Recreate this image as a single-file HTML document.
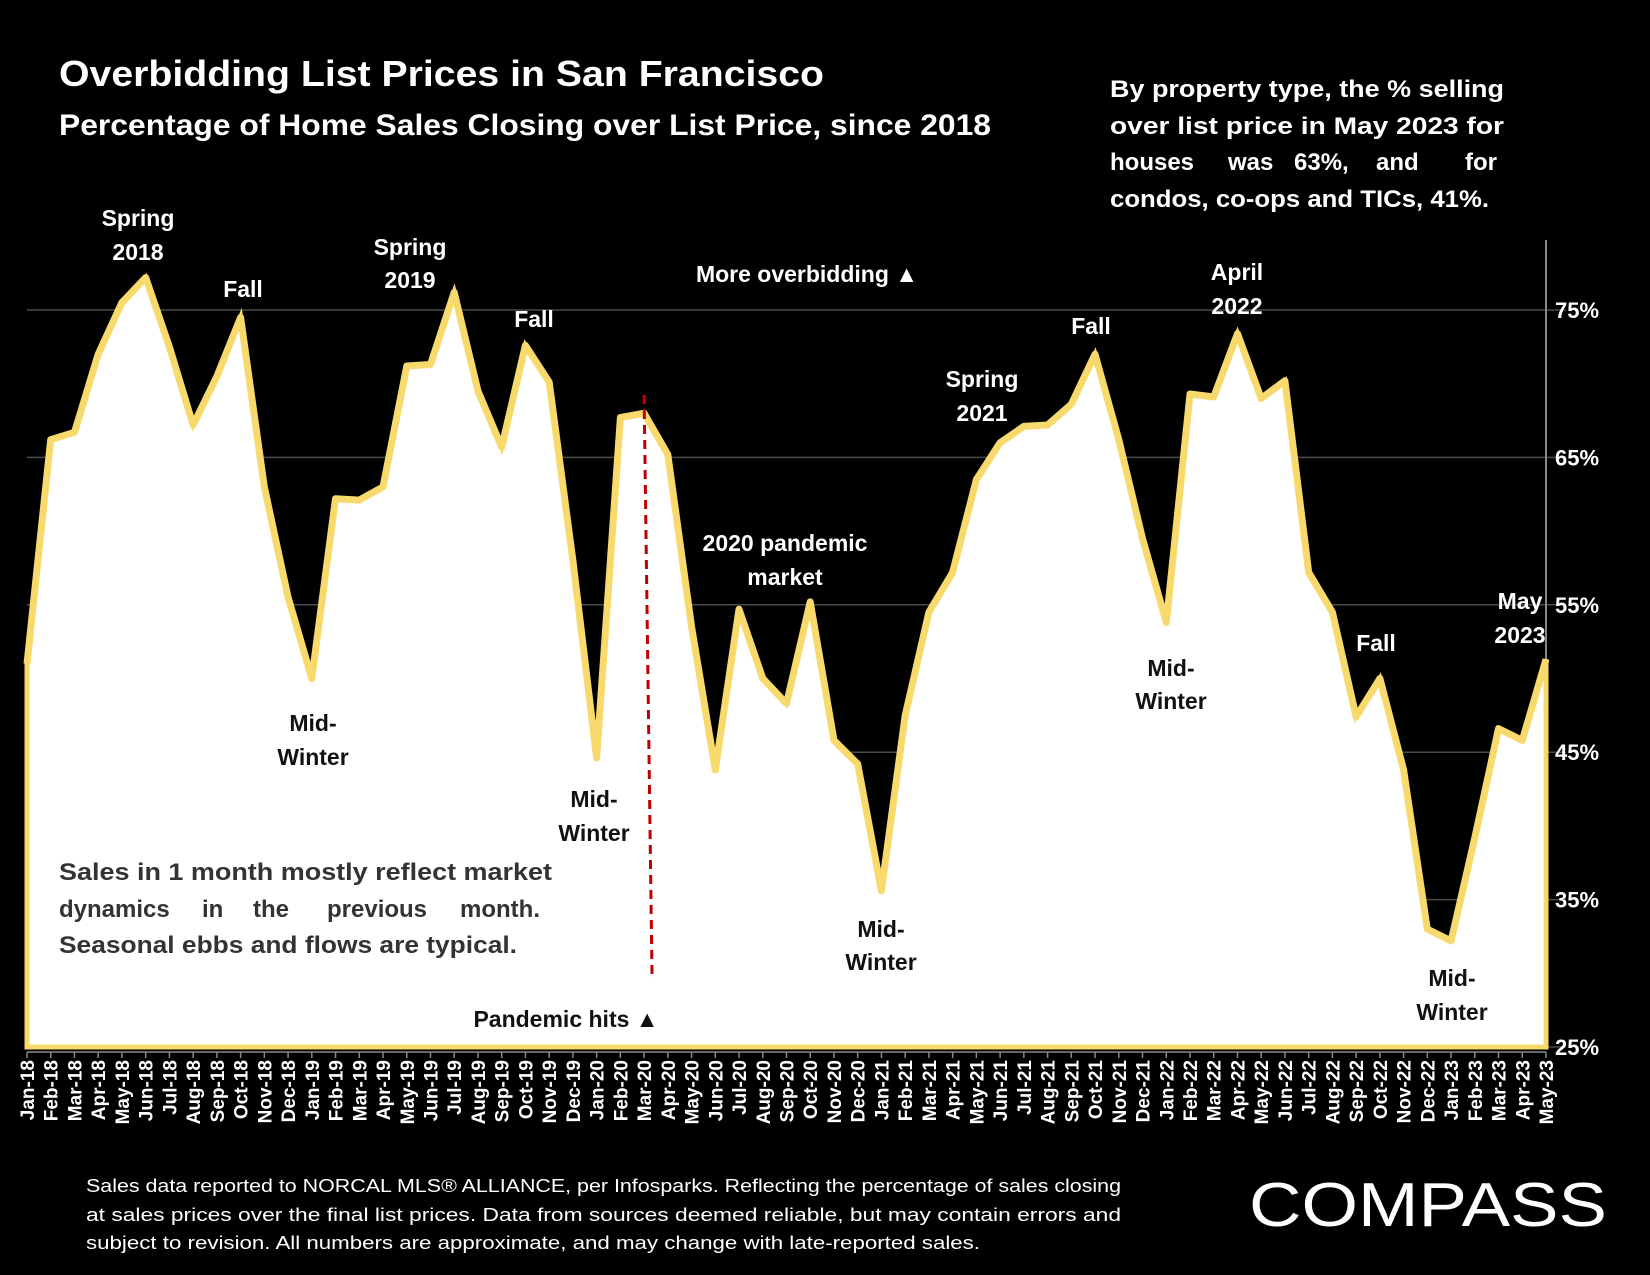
<!DOCTYPE html>
<html><head><meta charset="utf-8"><style>
html,body{margin:0;padding:0;background:#000;}
svg{display:block;font-family:"Liberation Sans",sans-serif;font-weight:bold;}
</style></head><body>
<svg id="chart" width="1650" height="1275" viewBox="0 0 1650 1275" xmlns="http://www.w3.org/2000/svg">
<rect width="1650" height="1275" fill="#000"/>
<g id="grid"></g>
<g id="area"></g>
<g id="xlabels"></g>
<g id="ylabels"></g>
<g fill="#fff" font-size="36">
<text x="59" y="86" textLength="765" lengthAdjust="spacingAndGlyphs">Overbidding List Prices in San Francisco</text>
<text x="59" y="135" font-size="30" textLength="932" lengthAdjust="spacingAndGlyphs">Percentage of Home Sales Closing over List Price, since 2018</text>
</g>
<g fill="#fff" font-size="24">
<text x="1110" y="97" textLength="394" lengthAdjust="spacingAndGlyphs">By property type, the % selling</text>
<text x="1110" y="134" textLength="394" lengthAdjust="spacingAndGlyphs">over list price in May 2023 for</text>
<text y="170"><tspan x="1110">houses</tspan><tspan x="1228">was</tspan><tspan x="1294">63%,</tspan><tspan x="1376">and</tspan><tspan x="1465">for</tspan></text>
<text x="1110" y="207" textLength="379" lengthAdjust="spacingAndGlyphs">condos, co-ops and TICs, 41%.</text>
</g>
<g fill="#fff" font-size="23" text-anchor="middle">
<text><tspan x="138" y="226">Spring</tspan><tspan x="138" y="260">2018</tspan></text>
<text x="243" y="297">Fall</text>
<text><tspan x="410" y="255">Spring</tspan><tspan x="410" y="288">2019</tspan></text>
<text x="534" y="327">Fall</text>
<text x="807" y="282">More overbidding ▲</text>
<text><tspan x="785" y="551">2020 pandemic</tspan><tspan x="785" y="585">market</tspan></text>
<text><tspan x="982" y="387">Spring</tspan><tspan x="982" y="421">2021</tspan></text>
<text x="1091" y="334">Fall</text>
<text><tspan x="1237" y="280">April</tspan><tspan x="1237" y="314">2022</tspan></text>
<text x="1376" y="651">Fall</text>
<text><tspan x="1520" y="609">May</tspan><tspan x="1520" y="643">2023</tspan></text>
</g>
<g fill="#111" font-size="23" text-anchor="middle">
<text><tspan x="313" y="731">Mid-</tspan><tspan x="313" y="765">Winter</tspan></text>
<text><tspan x="594" y="807">Mid-</tspan><tspan x="594" y="841">Winter</tspan></text>
<text><tspan x="881" y="937">Mid-</tspan><tspan x="881" y="970">Winter</tspan></text>
<text><tspan x="1171" y="676">Mid-</tspan><tspan x="1171" y="709">Winter</tspan></text>
<text><tspan x="1452" y="986">Mid-</tspan><tspan x="1452" y="1020">Winter</tspan></text>
<text x="566" y="1027">Pandemic hits ▲</text>
</g>
<g fill="#333" font-size="24">
<text x="59" y="880" textLength="493" lengthAdjust="spacingAndGlyphs">Sales in 1 month mostly reflect market</text>
<text y="917"><tspan x="59">dynamics</tspan><tspan x="202">in</tspan><tspan x="253">the</tspan><tspan x="327">previous</tspan><tspan x="460">month.</tspan></text>
<text x="59" y="953" textLength="458" lengthAdjust="spacingAndGlyphs">Seasonal ebbs and flows are typical.</text>
</g>
<g fill="#fff" font-size="18" font-weight="normal">
<text x="86" y="1192" textLength="1035" lengthAdjust="spacingAndGlyphs">Sales data reported to NORCAL MLS® ALLIANCE, per Infosparks. Reflecting the percentage of sales closing</text>
<text x="86" y="1221" textLength="1035" lengthAdjust="spacingAndGlyphs">at sales prices over the final list prices. Data from sources deemed reliable, but may contain errors and</text>
<text x="86" y="1249" textLength="894" lengthAdjust="spacingAndGlyphs">subject to revision. All numbers are approximate, and may change with late-reported sales.</text>
</g>
<text x="1249" y="1226" fill="#fff" font-size="62" font-weight="normal" textLength="358" lengthAdjust="spacingAndGlyphs">COMPASS</text>
</svg>
<script>
const months = ["Jan","Feb","Mar","Apr","May","Jun","Jul","Aug","Sep","Oct","Nov","Dec"];
const categories = [];
for (let y = 18; y <= 23; y++) for (let m = 0; m < 12; m++) { if (y === 23 && m > 4) break; categories.push(months[m] + "-" + y); }
const values = [51,66.2,66.7,72,75.5,77.2,72.5,67.2,70.5,74.5,63,55.5,
50,62.2,62.1,63,71.2,71.3,76.2,69.5,65.7,72.6,70.1,58,
44.6,67.7,68,65.2,53.5,43.8,54.7,50,48.3,55.2,45.8,44.2,
35.6,47.5,54.5,57.2,63.5,66,67.1,67.2,68.6,72,66.2,59.5,
53.8,69.3,69.1,73.4,69,70.2,57.2,54.5,47.4,50,43.8,33,
32.2,39.2,46.6,45.8,51.3];
const yTicks = [25,35,45,55,65,75];
const pandemicMonth = "Mar-20";

const NS = "http://www.w3.org/2000/svg";
const X0 = 27, X1 = 1546, Y25 = 1047, Y75 = 310;
const xs = i => X0 + i * (X1 - X0) / (categories.length - 1);
const ys = v => Y25 - (v - 25) * (Y25 - Y75) / 50;
function mk(tag, attrs, parent) { const e = document.createElementNS(NS, tag); for (const k in attrs) e.setAttribute(k, attrs[k]); parent.appendChild(e); return e; }

const grid = document.getElementById("grid");
const yl = document.getElementById("ylabels");
yTicks.forEach(t => {
  const l = mk("line", {x1: X0, x2: 1566, y1: ys(t), y2: ys(t), stroke: "#4a4a4a", "stroke-width": 1.5}, grid);
  
  
  const tx = mk("text", {x: 1555, y: ys(t) + 8, fill: "#fff", "font-size": 22}, yl);
  tx.textContent = t + "%";
  
  
});
const ax = mk("line", {x1: X1, x2: X1, y1: 240, y2: Y25, stroke: "#888", "stroke-width": 2}, grid);



const area = document.getElementById("area");
let d = "M" + xs(0) + "," + Y25;
values.forEach((v, i) => d += " L" + xs(i).toFixed(1) + "," + ys(v).toFixed(1));
d += " L" + xs(values.length - 1) + "," + Y25 + " Z";
const fill = mk("path", {d: d, fill: "#fff", stroke: "#f8d96b", "stroke-width": 5}, area);


let ld = "";
values.forEach((v, i) => ld += (i ? " L" : "M") + xs(i).toFixed(1) + "," + ys(v).toFixed(1));
const line = mk("path", {d: ld, fill: "none", stroke: "#f8d96b", "stroke-width": 7, "stroke-linejoin": "round"}, area);


const pi = categories.indexOf(pandemicMonth);
const pl = mk("line", {x1: xs(pi), x2: xs(pi) + 8, y1: 395, y2: 980, stroke: "#c00000", "stroke-width": 3, "stroke-dasharray": "9,6"}, area);



const xl = document.getElementById("xlabels");
const bl = mk("line", {x1: X0, x2: X1, y1: 1052, y2: 1052, stroke: "#888", "stroke-width": 1.5}, xl);


categories.forEach((c, i) => {
  const tk = mk("line", {x1: xs(i), x2: xs(i), y1: 1052, y2: 1058, stroke: "#888", "stroke-width": 1.5}, xl);
  
  
  const t = mk("text", {x: 0, y: 0, fill: "#fff", "font-size": 19, "text-anchor": "end", transform: "translate(" + (xs(i) + 7) + ",1060) rotate(-90)"}, xl);
  t.textContent = c;
  
  
});
</script>
</body></html>
